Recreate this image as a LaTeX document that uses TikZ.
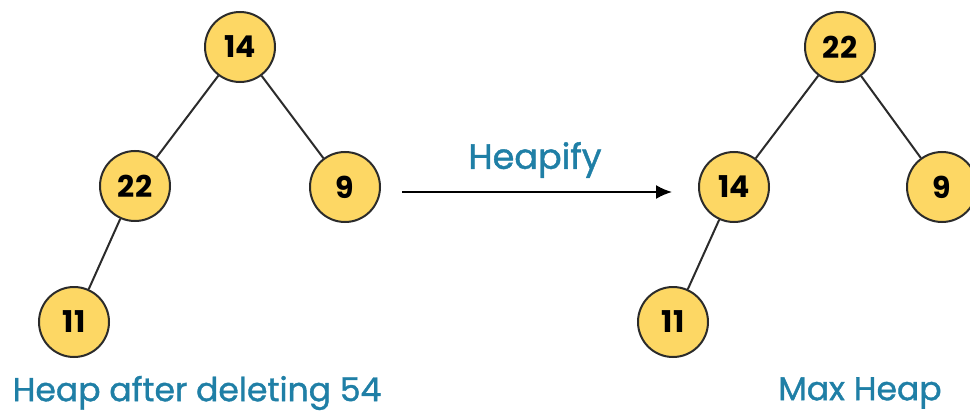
\documentclass[tikz,border=0pt]{standalone}
\usepackage{fontspec}
\setmainfont{Poppins}
\newfontfamily\captionfont[FakeBold=1.2]{Poppins}
\usetikzlibrary{arrows.meta}
\definecolor{heapfill}{HTML}{FDD764}
\definecolor{heapline}{HTML}{2B2B2B}
\definecolor{captionblue}{HTML}{1F7FA6}
\begin{document}
\begin{tikzpicture}[x=1pt,y=-1pt,
  keynode/.style={circle,draw=heapline,line width=2pt,fill=heapfill,
    minimum size=70pt,inner sep=0pt,font=\fontsize{30}{30}\selectfont\bfseries},
  treeedge/.style={draw=heapline,line width=2pt},
  caption/.style={text=captionblue,font=\fontsize{33}{33}\captionfont,inner sep=0pt}]
\useasboundingbox (0,0) rectangle (970,412);
\clip (0,0) rectangle (970,412);
% tree before heapify
\node[keynode] (a14) at (240,47) {14};
\node[keynode] (a22) at (135,186) {22};
\node[keynode] (a9)  at (345,187) {9};
\node[keynode] (a11) at (74,322) {11};
\draw[treeedge] (a14) -- (a22);
\draw[treeedge] (a14) -- (a9);
\draw[treeedge] (a22) -- (a11);
% tree after heapify
\node[keynode] (b22) at (840,47) {22};
\node[keynode] (b14) at (734,187) {14};
\node[keynode] (b9)  at (942,187) {9};
\node[keynode] (b11) at (673,322) {11};
\draw[treeedge] (b22) -- (b14);
\draw[treeedge] (b22) -- (b9);
\draw[treeedge] (b14) -- (b11);
% transformation arrow
\coordinate (arrS) at (402,192);
\coordinate (arrE) at (672,192);
\draw[line width=1.8pt,-{Latex[length=16pt,width=14pt]}] (arrS) -- (arrE);
\node[caption,font=\fontsize{35}{35}\captionfont] (heapify) at (535,160) {Heapify};
% captions
\node[caption] (capL) at (197,393) {Heap after deleting 54};
\node[caption] (capR) at (860,393) {Max Heap};
\end{tikzpicture}
\end{document}
